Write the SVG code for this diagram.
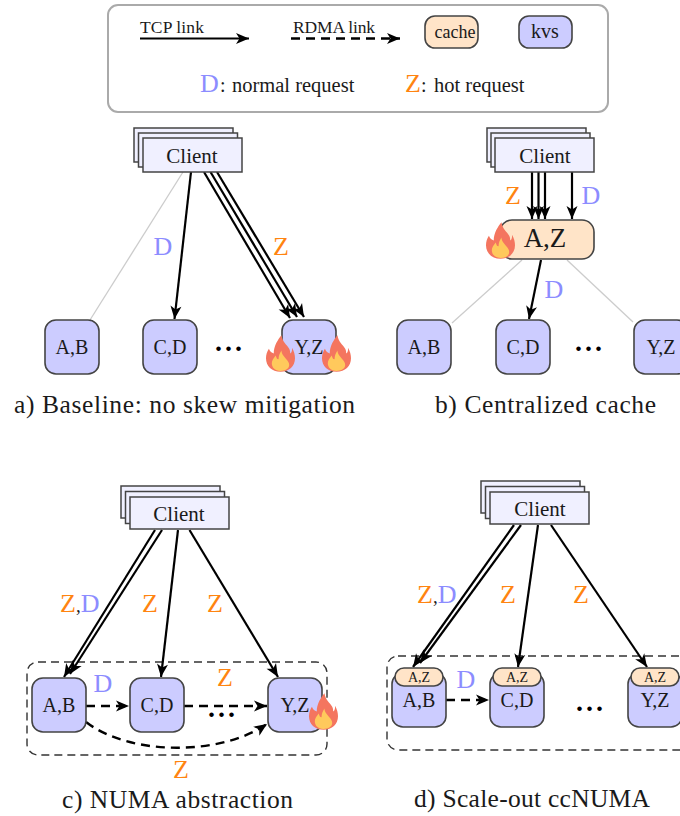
<svg xmlns="http://www.w3.org/2000/svg" width="680" height="816" viewBox="0 0 680 816">
<style>
text{font-family:"Liberation Serif","Times New Roman",serif;fill:#1a1a1a}
.kvs{fill:#ccccff;stroke:#444;stroke-width:1.6}
.cache{fill:#ffe4c8;stroke:#444;stroke-width:1.6}
.cl{fill:#f0f0ff;stroke:#444;stroke-width:1.5}
.n{font-size:20px;text-anchor:middle}
.clt{font-size:21px;text-anchor:middle}
.s{font-size:14px;text-anchor:middle}
.cap{font-size:25.500px}
.D{font-size:26px;fill:#8c8cff}
.Z{font-size:26px;fill:#ff8410}
.m{text-anchor:middle}
.dots{font-size:28px;font-weight:bold;text-anchor:middle;fill:#000;letter-spacing:3px}
.t{fill:none;stroke:#000;stroke-width:2.200;marker-end:url(#a)}
.r{fill:none;stroke:#000;stroke-width:2.400;stroke-dasharray:9 6;marker-end:url(#a)}
.g{fill:none;stroke:#ccc;stroke-width:1.300}
.box{fill:none;stroke:#333;stroke-width:1.400;stroke-dasharray:8 5}
</style>
<defs>
<marker id="a" markerUnits="userSpaceOnUse" markerWidth="14" markerHeight="12" refX="13" refY="6" orient="auto" overflow="visible">
<path d="M13 6 L0 0.5 L3.5 6 L0 11.5Z" fill="#000"/>
</marker>
<symbol id="flame" viewBox="0 0 30 38" overflow="visible">
<path d="M15 38C6 38 0 32 0 24C0 20 1 17 3 14C4 17 6 18 8 19C8 11 12 5 16 0C17 7 21 9 24 14C25 16 25 17 25 19C27 18 27 15 27 13C29 17 30 20 30 24C30 32 24 38 15 38Z" fill="#f4755f"/>
<path d="M15 37C9 37 6 33 6 29C6 26 8 24 10 21C11 23 11 25 13 25C13 22 14 19 16 16C16 20 19 22 21 25C23 27 24 29 24 31C24 35 20 37 15 37Z" fill="#ffc95c"/>
</symbol>
</defs>
<g id="legend">
<rect x="108" y="5" width="500" height="107" rx="10" fill="#fff" stroke="#aaa" stroke-width="2"/>
<text x="140" y="33" font-size="17.500" textLength="64">TCP link</text>
<text x="293" y="33" font-size="17.500" textLength="82">RDMA link</text>
<path class="t" d="M140 38.500H249"/>
<path class="r" d="M291 38.500H400"/>
<g id="legend-cache"><rect class="cache" x="425" y="16" width="53" height="32" rx="10"/><text x="455" y="38" font-size="18" text-anchor="middle">cache</text></g>
<g id="legend-kvs"><rect class="kvs" x="519" y="16" width="53" height="32" rx="10"/><text x="545" y="38" font-size="20" text-anchor="middle">kvs</text></g>
<text y="92"><tspan class="D" x="200">D</tspan><tspan x="220" font-size="20">: </tspan><tspan x="232" font-size="20.500">normal request</tspan></text>
<text y="92"><tspan class="Z" x="405">Z</tspan><tspan x="421" font-size="20">: </tspan><tspan x="434" font-size="20.500">hot request</tspan></text>
</g>
<g id="group-boxes">
<rect class="box" x="27" y="662" width="300" height="93" rx="11"/>
<rect class="box" x="387" y="656" width="305" height="94" rx="11"/>
</g>
<g id="connectors">
<path class="g" d="M183 172L90 320"/>
<path class="t" d="M191 172L174.500 319"/>
<path class="t" d="M204 172L290 318"/>
<path class="t" d="M210.500 172L297 317"/>
<path class="t" d="M217 172L304 317"/>
<path class="t" d="M532 172V219"/>
<path class="t" d="M538.500 172V219"/>
<path class="t" d="M545 172V219"/>
<path class="t" d="M572 172V219"/>
<path class="t" d="M541 260L529 319"/>
<path class="g" d="M522 260L452 323"/>
<path class="g" d="M567 260L633 322"/>
<path class="t" d="M155 530L64 677"/>
<path class="t" d="M162 530L70 674"/>
<path class="t" d="M178 530L161 677"/>
<path class="t" d="M189.500 530L278 677"/>
<path class="r" d="M86 706H129"/>
<path class="r" d="M184 706H267"/>
<path class="r" d="M86 722C130 756 220 756 267 724"/>
<path class="t" d="M514 525L413 667"/>
<path class="t" d="M521 525L420 663"/>
<path class="t" d="M538 525L518 667"/>
<path class="t" d="M551 525L647 667"/>
<path class="r" d="M446 700H489"/>
</g>
<g id="a-client"><rect class="cl" x="134" y="128" width="99" height="34"/><rect class="cl" x="138.500" y="133" width="99" height="34"/><rect class="cl" x="143" y="138" width="99" height="34"/><text class="clt" x="192" y="163">Client</text></g>
<g id="a-ab"><rect class="kvs" x="45" y="320" width="54" height="54" rx="11"/><text class="n" x="72" y="354">A,B</text></g>
<g id="a-cd"><rect class="kvs" x="143" y="320" width="54" height="54" rx="11"/><text class="n" x="170" y="354">C,D</text></g>
<g id="a-yz"><rect class="kvs" x="282" y="320" width="54" height="54" rx="11"/><text class="n" x="309" y="354">Y,Z</text>
<use href="#flame" x="266" y="335" width="29" height="37"/><use href="#flame" x="322" y="335" width="29" height="37"/></g>
<text class="dots" x="230" y="351">...</text>
<text class="D m" x="163" y="255">D</text>
<text class="Z m" x="281" y="255">Z</text>
<text class="cap" x="14" y="413" textLength="341">a) Baseline: no skew mitigation</text>
<g id="b-client"><rect class="cl" x="487" y="128" width="99" height="34"/><rect class="cl" x="491" y="133" width="99" height="34"/><rect class="cl" x="495" y="138" width="99" height="34"/><text class="clt" x="545" y="163">Client</text></g>
<g id="b-cache"><rect class="cache" x="500" y="220" width="94" height="39" rx="12"/><text x="545" y="247" font-size="27" text-anchor="middle">A,Z</text><use href="#flame" x="486" y="222" width="29" height="37"/></g>
<g id="b-ab"><rect class="kvs" x="397" y="320" width="54" height="54" rx="11"/><text class="n" x="424" y="354">A,B</text></g>
<g id="b-cd"><rect class="kvs" x="496" y="320" width="54" height="54" rx="11"/><text class="n" x="523" y="354">C,D</text></g>
<g id="b-yz"><rect class="kvs" x="634" y="320" width="54" height="54" rx="11"/><text class="n" x="661" y="354">Y,Z</text></g>
<text class="dots" x="590" y="351">...</text>
<text class="Z m" x="513" y="204">Z</text>
<text class="D m" x="591" y="204">D</text>
<text class="D m" x="554" y="298">D</text>
<text class="cap" x="435" y="413" textLength="221">b) Centralized cache</text>
<g id="c-client"><rect class="cl" x="121" y="486" width="99" height="32"/><rect class="cl" x="125.500" y="491.500" width="99" height="32"/><rect class="cl" x="130" y="497" width="99" height="32"/><text class="clt" x="179" y="521">Client</text></g>
<g id="c-ab"><rect class="kvs" x="32" y="678" width="54" height="54" rx="11"/><text class="n" x="59" y="712">A,B</text></g>
<g id="c-cd"><rect class="kvs" x="130" y="678" width="54" height="54" rx="11"/><text class="n" x="157" y="712">C,D</text></g>
<g id="c-yz"><rect class="kvs" x="268" y="678" width="54" height="54" rx="11"/><text class="n" x="295" y="712">Y,Z</text><use href="#flame" x="309" y="693" width="29" height="37"/></g>
<text class="dots" x="223" y="717">...</text>
<text y="612"><tspan class="Z" x="60">Z</tspan><tspan font-size="19">,</tspan><tspan class="D">D</tspan></text>
<text class="Z m" x="150" y="612">Z</text>
<text class="Z m" x="215" y="612">Z</text>
<text class="Z m" x="225" y="686">Z</text>
<text class="D m" x="103" y="692">D</text>
<text class="Z m" x="181" y="778">Z</text>
<text class="cap" x="62" y="808" textLength="231">c) NUMA abstraction</text>
<g id="d-client"><rect class="cl" x="481" y="481" width="99" height="32"/><rect class="cl" x="485.500" y="486.500" width="99" height="32"/><rect class="cl" x="490" y="492" width="99" height="32"/><text class="clt" x="540" y="516">Client</text></g>
<g id="d-ab"><rect class="kvs" x="392" y="673" width="54" height="54" rx="11"/><rect class="cache" x="395" y="668" width="48" height="18" rx="9"/><text class="s" x="419" y="682">A,Z</text><text class="n" x="419" y="707">A,B</text></g>
<g id="d-cd"><rect class="kvs" x="490" y="673" width="54" height="54" rx="11"/><rect class="cache" x="493" y="668" width="48" height="18" rx="9"/><text class="s" x="517" y="682">A,Z</text><text class="n" x="517" y="707">C,D</text></g>
<g id="d-yz"><rect class="kvs" x="628" y="673" width="54" height="54" rx="11"/><rect class="cache" x="631" y="668" width="48" height="18" rx="9"/><text class="s" x="655" y="682">A,Z</text><text class="n" x="655" y="707">Y,Z</text></g>
<text class="dots" x="591" y="711">...</text>
<text y="603"><tspan class="Z" x="417">Z</tspan><tspan font-size="19">,</tspan><tspan class="D">D</tspan></text>
<text class="Z m" x="508" y="603">Z</text>
<text class="Z m" x="581" y="603">Z</text>
<text class="D m" x="466" y="688">D</text>
<text class="cap" x="414" y="807" textLength="236">d) Scale-out ccNUMA</text>
</svg>
